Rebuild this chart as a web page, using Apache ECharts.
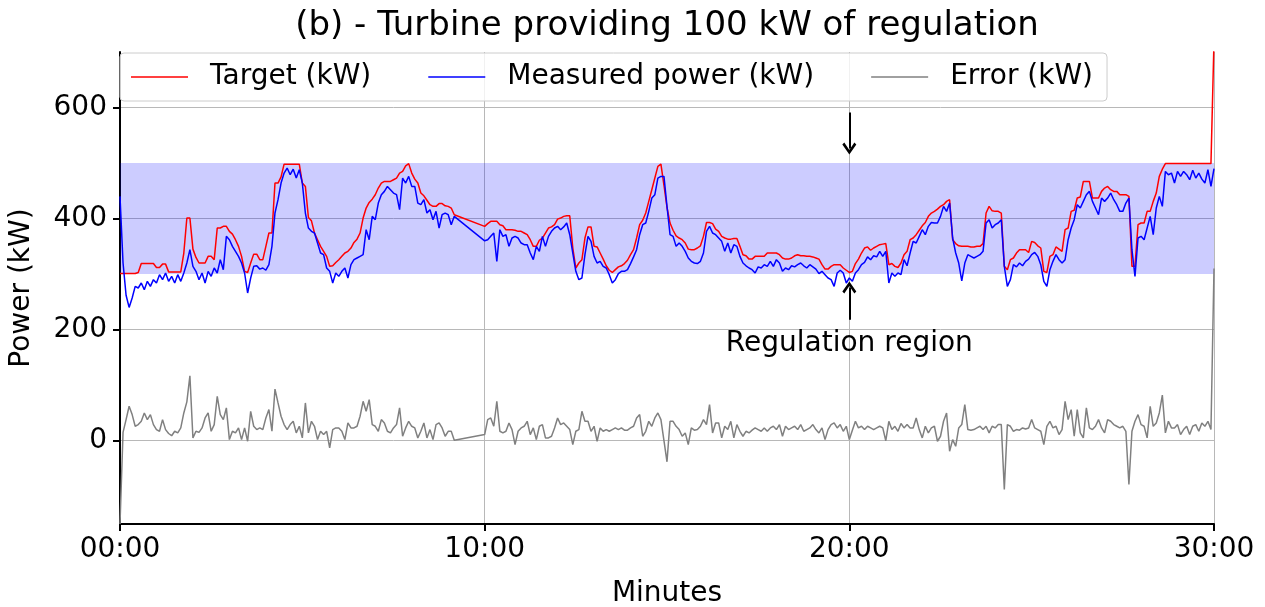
<!DOCTYPE html>
<html>
<head>
<meta charset="utf-8">
<title>Turbine providing 100 kW of regulation</title>
<script src="https://cdn.jsdelivr.net/npm/echarts@6.0.0/dist/echarts.min.js"></script>
<style>
  html, body { margin: 0; padding: 0; background: #fff; }
  #chart { width: 1265px; height: 607px; }
</style>
</head>
<body>
<div id="chart"></div>
<script>
// one sample every 5 s, index 0 = 00:00, index 360 = 30:00
// null = no data logged (gap around 09:15 - 09:55)
const STEP_MIN = 5 / 60

const target = [
  301, 301, 301, 301, 301, 301, 303, 319, 319, 319, 319, 319,
  312, 312, 318, 318, 304, 304, 304, 304, 304, 338, 401, 401,
  345, 330, 320, 320, 320, 332, 332, 326, 383, 383, 386, 386,
  377, 372, 362, 350, 332, 305, 303, 320, 336, 336, 326, 326,
  350, 374, 374, 464, 464, 475, 498, 498, 498, 498, 498, 498,
  464, 458, 402, 396, 374, 362, 350, 341, 332, 314, 315, 321,
  326, 332, 338, 341, 347, 357, 363, 374, 401, 419, 429, 435,
  443, 455, 464, 467, 467, 467, 470, 473, 482, 485, 495, 499,
  482, 471, 464, 446, 441, 433, 425, 422, 422, 427, 427, 423,
  422, 419, 407, null, null, null, null, null, null, null, null, null,
  386, 391, 395, 395, 395, 389, 387, 380, 380, 380, 379, 377,
  377, 374, 371, 362, 350, 350, 361, 365, 374, 383, 385, 389,
  399, 401, 404, 405, 405, 347, 311, 320, 326, 365, 385, 385,
  350, 349, 338, 327, 315, 307, 303, 308, 313, 315, 319, 325,
  335, 344, 365, 389, 397, 410, 431, 452, 473, 494, 498, 460,
  420, 392, 379, 369, 365, 362, 356, 345, 344, 344, 347, 351,
  368, 393, 393, 391, 381, 377, 368, 365, 363, 363, 364, 364,
  350, 335, 333, 327, 327, 332, 332, 332, 332, 338, 338, 338,
  338, 335, 329, 327, 327, 329, 333, 335, 333, 333, 332, 332,
  331, 329, 327, 317, 309, 309, 314, 317, 317, 317, 311, 307,
  303, 305, 319, 327, 338, 347, 349, 343, 347, 350, 353, 354,
  355, 317, 319, 314, 312, 320, 335, 341, 362, 365, 371, 379,
  387, 393, 404, 410, 413, 417, 422, 425, 431, 434, 362, 355,
  351, 350, 350, 350, 349, 349, 350, 350, 355, 410, 422, 414,
  413, 413, 410, 314, 308, 326, 329, 338, 344, 344, 344, 339,
  359, 357, 351, 347, 305, 303, 332, 335, 349, 345, 341, 380,
  383, 413, 415, 437, 439, 467, 467, 467, 437, 437, 437, 449,
  455, 458, 452, 449, 449, 443, 443, 443, 440, 314, 314, 389,
  392, 392, 413, 413, 431, 446, 476, 489, 499, 499, 499, 499,
  499, 499, 499, 499, 499, 499, 499, 499, 499, 499, 499, 499,
  720
]

const measured = [
  440, 320, 262, 240, 257, 278, 275, 284, 272, 287, 278, 290,
  284, 299, 290, 302, 287, 296, 284, 299, 287, 302, 320, 344,
  314, 305, 290, 302, 284, 305, 296, 311, 302, 326, 308, 368,
  362, 350, 341, 332, 320, 302, 266, 293, 314, 315, 309, 311,
  307, 317, 350, 410, 434, 464, 482, 491, 479, 489, 473, 488,
  464, 410, 383, 377, 374, 356, 338, 335, 311, 305, 284, 302,
  296, 305, 311, 293, 317, 326, 329, 332, 335, 380, 362, 404,
  398, 428, 443, 449, 458, 452, 446, 443, 416, 473, 464, 476,
  458, 458, 428, 425, 434, 410, 416, 398, 413, 383, 407, 410,
  407, 389, 404, null, null, null, null, null, null, null, null, null,
  360, 362, 368, 374, 323, 380, 368, 371, 350, 365, 368, 365,
  356, 353, 353, 338, 326, 350, 341, 368, 350, 368, 377, 383,
  386, 380, 385, 392, 371, 338, 305, 290, 293, 335, 368, 359,
  332, 320, 323, 314, 311, 299, 284, 290, 301, 305, 305, 308,
  319, 331, 344, 371, 389, 392, 413, 437, 443, 473, 476, 476,
  422, 371, 368, 350, 356, 350, 341, 329, 323, 320, 319, 323,
  338, 377, 386, 374, 371, 365, 359, 341, 356, 338, 353, 350,
  332, 320, 315, 311, 308, 302, 313, 311, 317, 314, 323, 314,
  326, 320, 305, 311, 308, 315, 313, 317, 320, 315, 311, 317,
  313, 309, 301, 305, 299, 293, 290, 278, 302, 307, 302, 284,
  293, 287, 302, 308, 317, 321, 331, 326, 333, 331, 341, 332,
  341, 284, 302, 296, 302, 299, 326, 315, 338, 359, 356, 368,
  380, 371, 386, 393, 392, 392, 404, 422, 413, 428, 365, 338,
  320, 288, 320, 335, 332, 329, 332, 335, 341, 392, 398, 383,
  389, 392, 398, 314, 278, 290, 317, 313, 320, 315, 323, 327,
  335, 339, 332, 317, 287, 278, 308, 323, 335, 326, 320, 326,
  362, 383, 398, 425, 419, 431, 443, 449, 431, 419, 407, 437,
  431, 437, 446, 434, 425, 413, 413, 428, 437, 344, 296, 365,
  368, 362, 383, 404, 371, 419, 440, 422, 485, 479, 482, 464,
  485, 476, 485, 479, 470, 487, 473, 482, 471, 464, 488, 458,
  490
]

const error = [
  -150, 15, 38, 62, 47, 26, 29, 35, 50, 38, 47, 29,
  20, 17, 38, 20, 13, 9, 17, 14, 23, 50, 70, 117,
  5, 17, 15, 23, 41, 50, 17, 29, 80, 47, 38, 59,
  2, 17, 14, 23, 2, 23, -1, 53, 26, 20, 23, 20,
  41, 56, 17, 93, 68, 44, 29, 20, 29, 35, 14, 26,
  5, 68, 14, 35, 26, 2, 17, 11, 17, -13, 20, 23,
  23, 17, 2, 32, 23, 23, 26, 44, 71, 53, 74, 29,
  26, 17, 38, 32, 17, 14, 23, 29, 59, 8, 23, 35,
  26, 23, 5, 17, 32, 5, 20, 2, 29, 32, 23, 8,
  17, 17, 1, null, null, null, null, null, null, null, null, null,
  11, 38, 41, 26, 71, 17, 14, 17, 32, 20, -7, 17,
  23, 26, 35, 11, 23, 2, 26, 29, 5, 5, 8, 23,
  41, 29, 32, 26, 20, -7, 17, 20, 53, 35, 35, 17,
  26, -1, 23, 17, 20, 17, 20, 23, 20, 23, 19, 19,
  23, 26, 41, 47, 8, 17, 35, 26, 41, 50, 38, 0,
  -38, 35, 35, 26, 20, 8, 14, -7, 23, 19, 20, 26,
  38, 29, 65, 14, 32, 32, 5, 26, 20, 35, 5, 29,
  17, 8, 17, 14, 19, 23, 20, 17, 23, 17, 23, 26,
  20, 29, 8, 26, 20, 23, 26, 20, 29, 17, 20, 23,
  29, 20, 14, 23, 2, 20, 29, 32, 23, 29, 17, 26,
  2, 19, 35, 23, 26, 20, 26, 23, 20, 23, 26, 23,
  0, 35, 20, 26, 17, 31, 23, 29, 23, 23, 41, 20,
  5, 26, 14, 23, 26, -1, 8, 35, 50, -19, 2, -10,
  23, 29, 65, 20, 19, 20, 23, 26, 20, 26, 14, 26,
  23, 29, 29, -88, 29, 26, 17, 20, 19, 23, 21, 23,
  38, 23, 20, 17, -7, 26, 35, 23, 26, 11, 20, 71,
  38, 56, 8, 56, 14, 5, 59, 23, 20, 26, 38, 23,
  14, 38, 35, 29, 26, 23, 26, 17, -79, 17, 35, 47,
  29, 26, 5, 62, 26, 32, 50, 82, 14, 35, 23, 23,
  29, 11, 20, 26, 11, 26, 29, 17, 32, 26, 35, 20,
  310
]

const yTicks = [0, 200, 400, 600]
const band = [300, 500]
const arrowX = 20
const FONT = 'DejaVu Sans'

function toPoints(values) {
  return values.map((v, i) => [i * STEP_MIN, v]).filter(p => p[1] !== null)
}

function minuteLabel(v) {
  return String(Math.round(v)).padStart(2, '0') + ':00'
}

// open arrow head (points up, markLine turns it along the line)
const chevron = 'path://M5,0 L10,6 L8.6,7.2 L5,2.8 L1.4,7.2 L0,6 Z'

const myChart = echarts.init(document.getElementById('chart'), null, { renderer: 'canvas' })

myChart.setOption({
  animation: false,
  backgroundColor: '#ffffff',
  textStyle: { fontFamily: FONT },
  graphic: [
    {
      type: 'text',
      x: 667,
      y: 26,
      style: {
        text: '(b) - Turbine providing 100 kW of regulation',
        fontSize: 34,
        fontFamily: FONT,
        fill: '#000',
        textAlign: 'center',
        textVerticalAlign: 'middle'
      }
    }
  ],
  legend: {
    left: 120,
    top: 53,
    orient: 'horizontal',
    padding: [10, 14, 10, 11],
    itemGap: 57,
    itemWidth: 57,
    itemHeight: 1.3,
    icon: 'rect',
    backgroundColor: 'rgba(255,255,255,0.8)',
    borderColor: '#cccccc',
    borderWidth: 1,
    borderRadius: 4,
    textStyle: {
      fontSize: 28,
      fontFamily: FONT,
      color: '#000',
      padding: [0, 0, 0, 17]
    },
    data: ['Target (kW)', 'Measured power (kW)', 'Error (kW)']
  },
  grid: {
    left: 120,
    right: 51,
    top: 52,
    bottom: 83,
    containLabel: false,
    outerBoundsMode: 'none'
  },
  xAxis: {
    type: 'value',
    min: 0,
    max: 30,
    interval: 10,
    name: 'Minutes',
    nameLocation: 'middle',
    nameGap: 56,
    nameMoveOverlap: false,
    nameTextStyle: { fontSize: 28, fontFamily: FONT, color: '#000' },
    axisLine: { show: true, onZero: false, lineStyle: { color: '#000', width: 2 } },
    axisTick: { show: true, inside: false, length: 7, lineStyle: { color: '#000', width: 2 } },
    axisLabel: { fontSize: 28, fontFamily: FONT, color: '#000', margin: 12, formatter: minuteLabel },
    splitLine: { show: true, lineStyle: { color: '#b8b8b8', width: 1 } }
  },
  yAxis: {
    type: 'value',
    min: -150,
    max: 700,
    name: 'Power (kW)',
    nameLocation: 'middle',
    nameGap: 84,
    nameMoveOverlap: false,
    nameTextStyle: { fontSize: 28, fontFamily: FONT, color: '#000' },
    axisLine: { show: true, onZero: false, lineStyle: { color: '#000', width: 2 } },
    axisTick: { show: true, inside: false, length: 7, customValues: yTicks, lineStyle: { color: '#000', width: 2 } },
    axisLabel: { fontSize: 28, fontFamily: FONT, color: '#000', margin: 13, customValues: yTicks },
    splitLine: { show: true, lineStyle: { color: '#b8b8b8', width: 1 } }
  },
  series: [
    {
      name: 'Target (kW)',
      type: 'line',
      data: toPoints(target),
      symbol: 'none',
      connectNulls: true,
      lineStyle: { color: '#ff0000', width: 1.5 },
      itemStyle: { color: '#ff0000' },
      emphasis: { disabled: true },
      z: 3,
      markArea: {
        silent: true,
        itemStyle: { color: 'rgba(0,0,255,0.2)' },
        data: [[{ yAxis: band[0] }, { yAxis: band[1] }]]
      }
    },
    {
      name: 'Measured power (kW)',
      type: 'line',
      data: toPoints(measured),
      symbol: 'none',
      connectNulls: true,
      lineStyle: { color: '#0000ff', width: 1.5 },
      itemStyle: { color: '#0000ff' },
      emphasis: { disabled: true },
      z: 4
    },
    {
      name: 'Error (kW)',
      type: 'line',
      data: toPoints(error),
      symbol: 'none',
      connectNulls: true,
      lineStyle: { color: '#808080', width: 1.5 },
      itemStyle: { color: '#808080' },
      emphasis: { disabled: true },
      z: 3,
      markLine: {
        silent: true,
        symbol: ['none', chevron],
        symbolSize: [14, 12],
        label: { show: false },
        lineStyle: { color: '#000', width: 2, type: 'solid' },
        emphasis: { disabled: true },
        data: [
          [{ coord: [arrowX, 591] }, { coord: [arrowX, 526] }],
          [{ coord: [arrowX, 218] }, { coord: [arrowX, 276] }]
        ]
      },
      markPoint: {
        silent: true,
        symbol: 'rect',
        symbolSize: 1,
        itemStyle: { color: 'rgba(0,0,0,0)' },
        label: {
          show: true,
          position: 'inside',
          fontSize: 28,
          fontFamily: FONT,
          color: '#000',
          formatter: 'Regulation region'
        },
        data: [{ coord: [arrowX, 175] }]
      }
    }
  ]
})
</script>
</body>
</html>
